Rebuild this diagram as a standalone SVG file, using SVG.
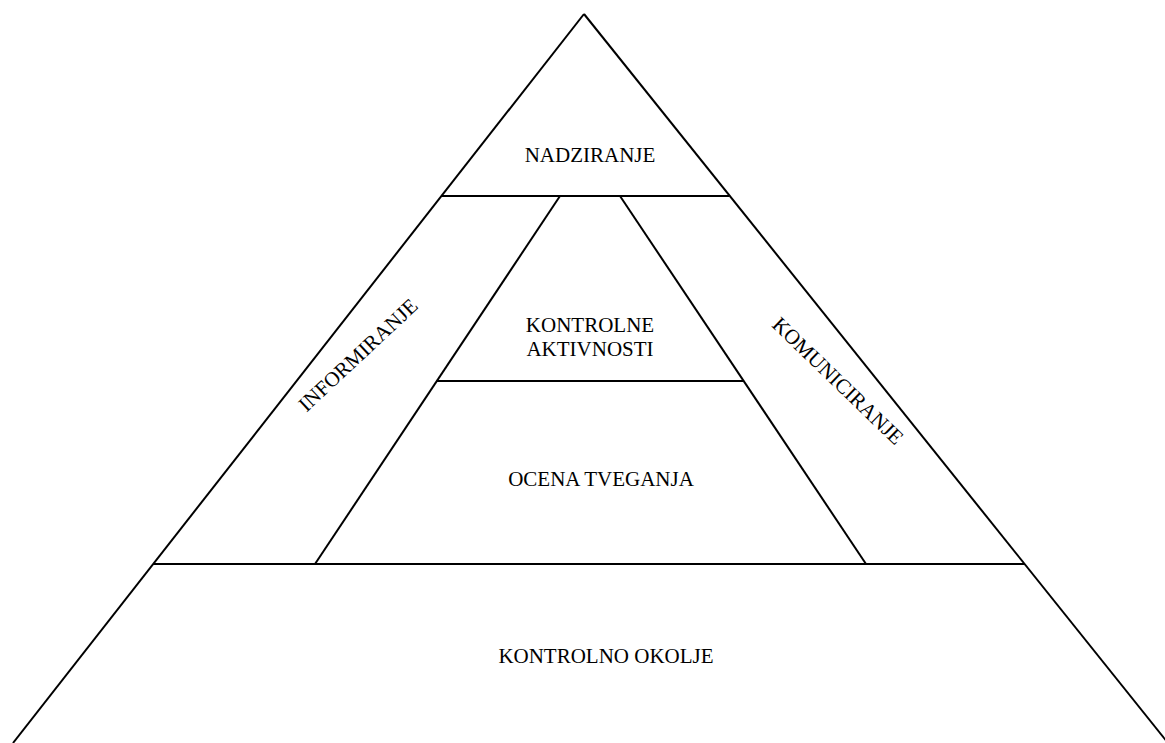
<svg xmlns="http://www.w3.org/2000/svg" width="1165" height="743" viewBox="0 0 1165 743">
  <style>
    .ln { stroke: #000; stroke-width: 2; fill: none; stroke-linecap: butt; }
    .lbl { font-family: "Liberation Serif", "Times New Roman", serif; font-size: 21px; fill: #000; text-anchor: middle; }
  </style>
  <rect width="1165" height="743" fill="#fff"/>

  <g id="connectors">
    <!-- outer pyramid sides -->
    <line class="ln" x1="584" y1="14" x2="13" y2="743"/>
    <line class="ln" x1="584" y1="14" x2="1168" y2="743"/>
    <!-- horizontal dividers -->
    <line class="ln" x1="441" y1="196" x2="729" y2="196"/>
    <line class="ln" x1="437" y1="381" x2="743" y2="381"/>
    <line class="ln" x1="153" y1="564" x2="1025" y2="564"/>
    <!-- inner trapezoid sides -->
    <line class="ln" x1="560" y1="196" x2="315" y2="564"/>
    <line class="ln" x1="620" y1="196" x2="866" y2="564"/>
  </g>

  <g id="nadziranje">
    <text class="lbl" x="590" y="162">NADZIRANJE</text>
  </g>
  <g id="kontrolne-aktivnosti">
    <text class="lbl" x="590" y="332">KONTROLNE</text>
    <text class="lbl" x="590" y="356">AKTIVNOSTI</text>
  </g>
  <g id="ocena-tveganja">
    <text class="lbl" x="601" y="486">OCENA TVEGANJA</text>
  </g>
  <g id="kontrolno-okolje">
    <text class="lbl" x="606" y="663">KONTROLNO OKOLJE</text>
  </g>
  <g id="informiranje">
    <text class="lbl" transform="translate(358 355) rotate(-43)" x="0" y="7">INFORMIRANJE</text>
  </g>
  <g id="komuniciranje">
    <text class="lbl" transform="translate(838 381) rotate(44)" x="0" y="7">KOMUNICIRANJE</text>
  </g>
</svg>
